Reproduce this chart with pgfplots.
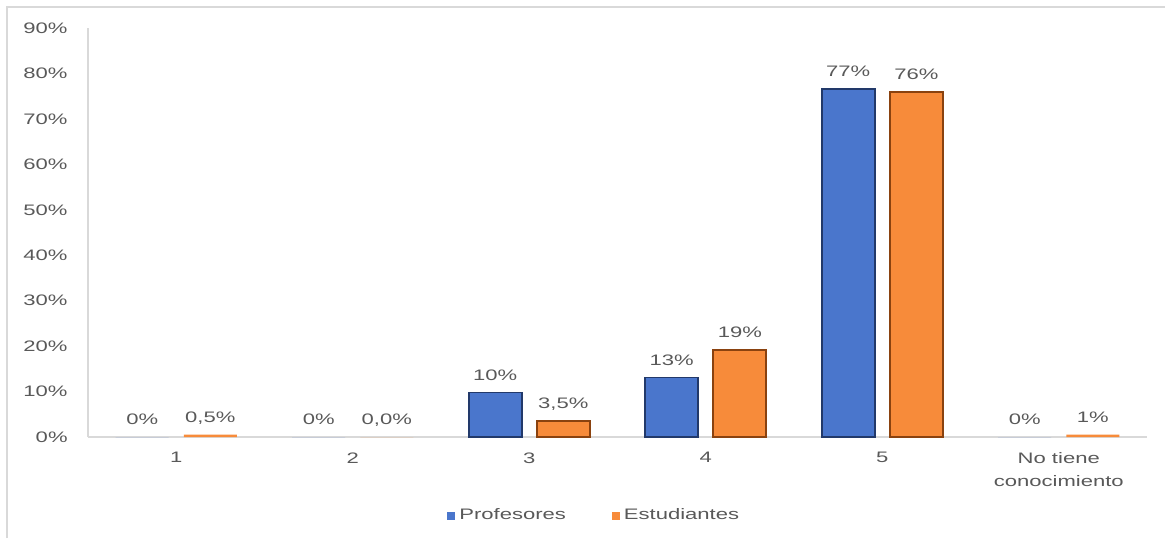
\documentclass[border=0pt]{standalone}
\usepackage{fontspec}
\setmainfont{Liberation Sans}[FakeStretch=1.45]
\usepackage{pgfplots}
\pgfplotsset{compat=1.18}
\definecolor{pblue}{HTML}{4A76CC}
\definecolor{pblueD}{HTML}{22396A}
\definecolor{pblueL}{HTML}{6F96E0}
\definecolor{porange}{HTML}{F78B3A}
\definecolor{porangeD}{HTML}{8A420F}
\definecolor{porangeL}{HTML}{FBA866}
\definecolor{txt}{HTML}{595959}
\definecolor{ax}{HTML}{D9D9D9}
\newcommand{\lblfont}{\fontsize{7.6}{11.5}\selectfont}
\begin{document}
\begin{tikzpicture}[x=1pt,y=1pt]
\begin{axis}[
 at={(44pt,50.5pt)}, anchor=south west,
 scale only axis, width=529.5pt, height=204.5pt,
 xmin=-0.5, xmax=5.5, ymin=0, ymax=90,
 axis x line=bottom, axis y line=left,
 axis line style={draw=ax, line width=1pt, -},
 ybar,
 xtick={0,...,5}, xticklabels={1,2,3,4,5,{No tiene\\conocimiento}},
 ytick={0,10,...,90},
 yticklabels={0\%,10\%,20\%,30\%,40\%,50\%,60\%,70\%,80\%,90\%},
 major tick length=0pt,
 tick label style={font=\lblfont, text=txt, inner sep=0pt},
 xticklabel style={anchor=north, align=center, yshift=-7.5pt},
 yticklabel style={anchor=east, xshift=-10pt},
 every node near coord/.append style={anchor=south, inner sep=0pt, yshift=6pt, font=\lblfont, text=txt, text depth=0pt},
 legend style={at={(0.479,-0.193)}, anchor=center, draw=none, fill=none, legend columns=-1, font=\lblfont, text=txt,
   /tikz/every even column/.append style={column sep=21pt}},
 legend image code/.code={\fill[#1] (0pt,-2pt) rectangle (4pt,2pt);},
 clip=false,
]
\addplot[ybar, bar width=0.3, bar shift=-0.193, fill=pblue, draw=none, nodes near coords, point meta=explicit symbolic]
 coordinates {(0,0)[0\%] (1,0)[0\%] (2,9.8)[10\%] (3,13.1)[13\%] (4,76.5)[77\%] (5,0)[0\%]};
\addlegendentry{Profesores}
\addplot[ybar, bar width=0.3, bar shift=0.193, fill=porange, draw=none, nodes near coords, point meta=explicit symbolic]
 coordinates {(0,0.5)[0,5\%] (1,0)[0,0\%] (2,3.5)[3,5\%] (3,19.1)[19\%] (4,76.0)[76\%] (5,0.5)[1\%]};
\addlegendentry{Estudiantes}
\addplot[ybar, forget plot, bar width=0.3, bar shift=-0.193, fill=none, draw=pblueD, line width=0.9pt]
 coordinates {(2,9.8) (3,13.1) (4,76.5)};
\addplot[ybar, forget plot, bar width=0.3, bar shift=0.193, fill=none, draw=porangeD, line width=0.9pt]
 coordinates {(2,3.5) (3,19.1) (4,76.0)};
\end{axis}
\draw[ax, line width=1pt] (3.5pt,0pt) -- (3.5pt,265.5pt) -- (582.5pt,265.5pt);
\pgfresetboundingbox
\path[use as bounding box] (0,0) rectangle (582.5pt,269pt);
\end{tikzpicture}
\end{document}
